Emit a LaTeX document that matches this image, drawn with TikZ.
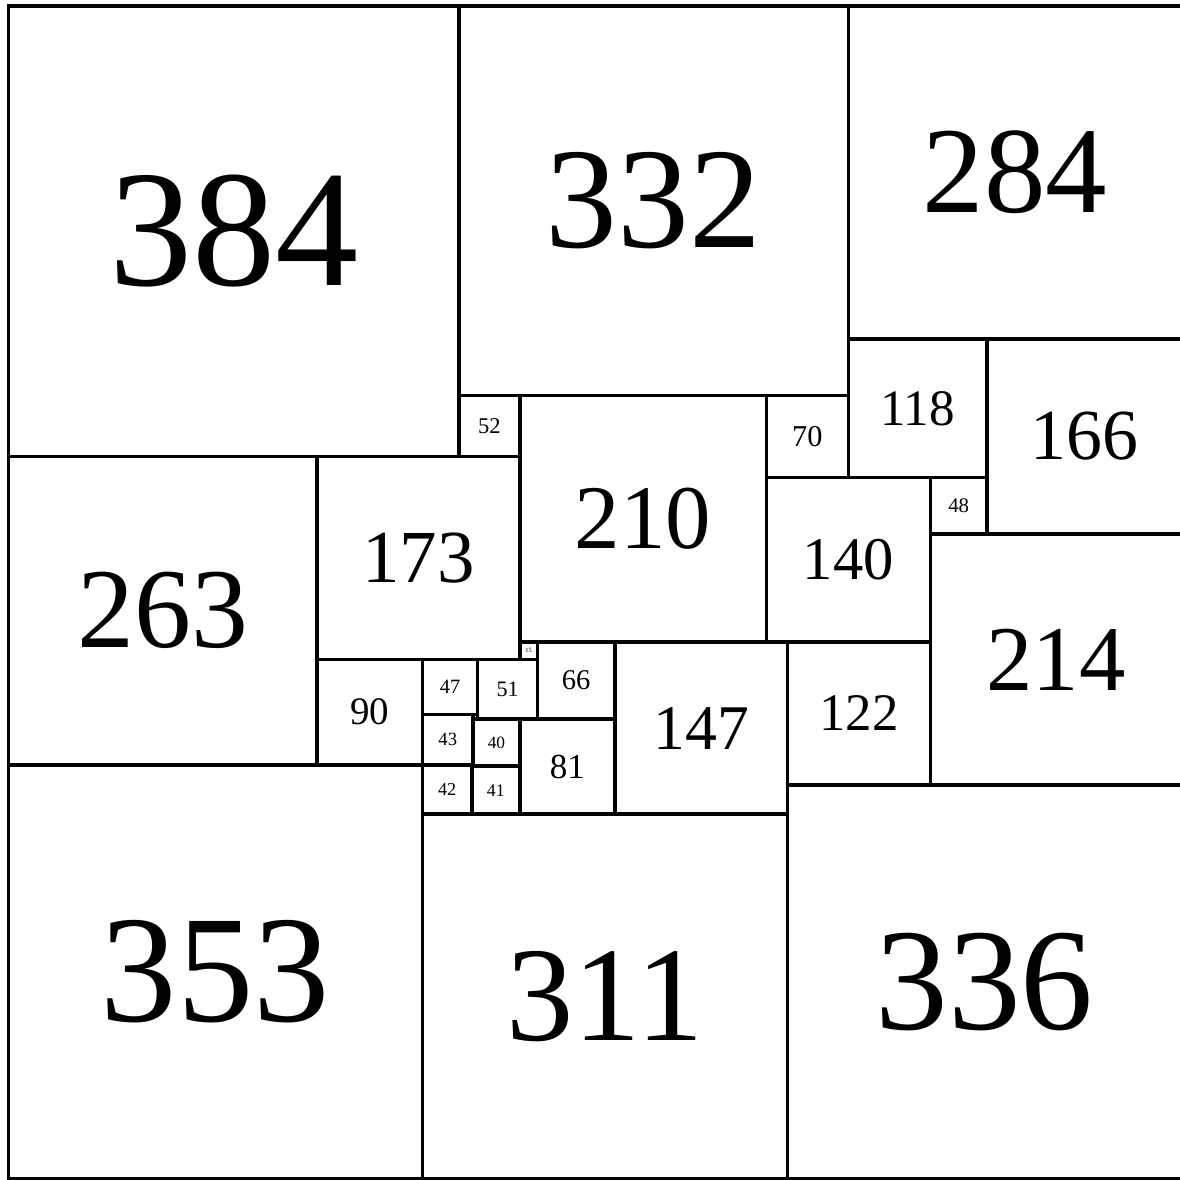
\documentclass[tikz,border=0pt]{standalone}
\usepackage{fontspec}
\setmainfont{Liberation Serif}

\begin{document}
\begin{tikzpicture}[x=0.1mm,y=-0.1mm,
      tile/.style={draw=black,line width=0.85pt},
      lbl/.style={inner sep=0pt,outer sep=0pt}]
    % outer square is 1000 x 1000, right edge falls just outside the page
    \useasboundingbox (-7.2,-5.1) rectangle (998.7,1000.8);

    % squares: top-left corner x/y, then side
    \foreach \x/\y/\s in {0/0/384, 384/0/332, 716/0/284,
                          384/332/52, 436/332/210, 646/332/70, 716/284/118, 834/284/166,
                          786/402/48, 646/402/140, 786/450/214,
                          0/384/263, 263/384/173, 263/557/90, 436/542/15,
                          353/557/47, 400/557/51, 451/542/66, 517/542/147, 664/542/122,
                          353/604/43, 396/608/40, 436/608/81, 353/647/42, 395/648/41,
                          0/647/353, 353/689/311, 664/664/336} {
      \pgfmathsetmacro\fs{0.105*\s}
      \draw[tile] (\x,\y) rectangle ++(\s,\s);
      \node[lbl] (sq\s) at (\x+\s/2,\y+\s/2) {\fontsize{\fs}{\fs}\selectfont\s};
    }
  \end{tikzpicture}
\end{document}
